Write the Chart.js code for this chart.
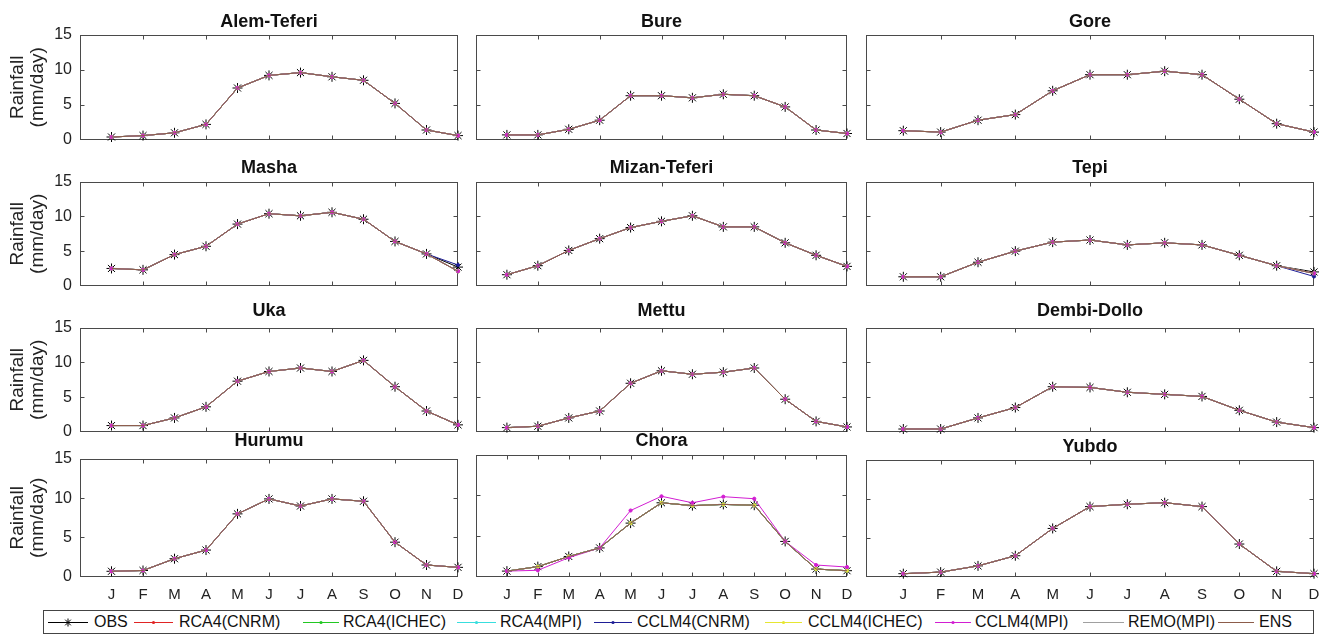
<!DOCTYPE html>
<html>
<head>
<meta charset="utf-8">
<script src="https://cdn.jsdelivr.net/npm/chart.js@4/dist/chart.umd.min.js"></script>
<style>
  body { margin: 0; background: #fff; width: 1331px; height: 634px; overflow: hidden; position: relative; font-family: "Liberation Sans", Arial, sans-serif; }
  canvas.panel { position: absolute; }
  #legend { position: absolute; left: 43px; top: 610px; width: 1269px; height: 22px; border: 1px solid #444; background: #fff; }
  #legend canvas { position: absolute; top: 5px; }
  #legend span { position: absolute; top: 2px; font-size: 16px; color: #111; white-space: nowrap; }
</style>
</head>
<body>
<div id="legend"></div>
<script>
const months = ['J', 'F', 'M', 'A', 'M', 'J', 'J', 'A', 'S', 'O', 'N', 'D']
const yTicks = [0, 5, 10, 15]

const seriesNames = ['OBS', 'RCA4(CNRM)', 'RCA4(ICHEC)', 'RCA4(MPI)', 'CCLM4(CNRM)', 'CCLM4(ICHEC)', 'CCLM4(MPI)', 'REMO(MPI)', 'ENS']

const stationNames = ['Alem-Teferi', 'Bure', 'Gore', 'Masha', 'Mizan-Teferi', 'Tepi',
    'Uka', 'Mettu', 'Dembi-Dollo', 'Hurumu', 'Chora', 'Yubdo']

const alemTeferi = [0.4, 0.6, 1.0, 2.2, 7.4, 9.2, 9.6, 9.0, 8.5, 5.2, 1.4, 0.6]
const bure = [0.7, 0.7, 1.5, 2.8, 6.3, 6.3, 6.0, 6.5, 6.3, 4.7, 1.4, 0.9]
const gore = [1.3, 1.1, 2.8, 3.6, 7.0, 9.3, 9.3, 9.8, 9.3, 5.8, 2.3, 1.1]
const mashaObs = [2.5, 2.3, 4.5, 5.7, 8.9, 10.4, 10.1, 10.6, 9.6, 6.4, 4.6, 2.7]
const masha = [2.5, 2.3, 4.5, 5.7, 8.9, 10.4, 10.1, 10.6, 9.6, 6.4, 4.6, 2.1]
const mashaCCLM4CNRM = [2.5, 2.3, 4.5, 5.7, 8.9, 10.4, 10.1, 10.6, 9.6, 6.4, 4.6, 3.0]
const mizanTeferi = [1.6, 2.9, 5.1, 6.8, 8.4, 9.3, 10.1, 8.5, 8.5, 6.2, 4.4, 2.8]
const tepiObs = [1.3, 1.3, 3.4, 5.0, 6.3, 6.6, 5.9, 6.2, 5.9, 4.4, 2.9, 2.0]
const tepi = [1.3, 1.3, 3.4, 5.0, 6.3, 6.6, 5.9, 6.2, 5.9, 4.4, 2.9, 1.8]
const tepiCCLM4CNRM = [1.3, 1.3, 3.4, 5.0, 6.3, 6.6, 5.9, 6.2, 5.9, 4.4, 2.9, 1.35]
const uka = [0.9, 0.9, 2.0, 3.6, 7.3, 8.7, 9.2, 8.7, 10.3, 6.5, 3.0, 1.0]
const mettu = [0.6, 0.8, 2.0, 3.0, 7.0, 8.8, 8.3, 8.6, 9.2, 4.7, 1.5, 0.7]
const dembiDollo = [0.4, 0.4, 2.0, 3.5, 6.5, 6.4, 5.7, 5.4, 5.1, 3.1, 1.4, 0.6]
const hurumu = [0.7, 0.8, 2.3, 3.4, 8.0, 9.9, 9.0, 9.9, 9.6, 4.4, 1.5, 1.2]
const chora = [0.7, 1.25, 2.5, 3.55, 6.6, 9.1, 8.75, 8.9, 8.8, 4.35, 0.95, 0.75]
const choraCCLM4MPI = [0.7, 0.8, 2.35, 3.55, 8.15, 9.9, 9.1, 9.85, 9.6, 4.35, 1.45, 1.2]
const yubdo = [0.4, 0.6, 1.4, 2.7, 6.2, 9.0, 9.3, 9.5, 9.0, 4.2, 0.7, 0.4]

const stationObs = [alemTeferi, bure, gore, mashaObs, mizanTeferi, tepiObs, uka, mettu, dembiDollo, hurumu, chora, yubdo]
const stationModels = [alemTeferi, bure, gore, masha, mizanTeferi, tepi, uka, mettu, dembiDollo, hurumu, chora, yubdo]
const modelOverrides = {
    'Masha': {'CCLM4(CNRM)': mashaCCLM4CNRM},
    'Tepi': {'CCLM4(CNRM)': tepiCCLM4CNRM},
    'Chora': {'CCLM4(MPI)': choraCCLM4MPI},
}

// styles
const seriesColors = ['#000000', '#e02424', '#22c822', '#38dede', '#1e1e96', '#e6e632', '#d21ed2', '#a0a0a0', '#8c5c4a']
const seriesMarkers = ['star', 'dot', 'dot', 'dot', 'dot', 'dot', 'dot', 'none', 'none']

// layout (pixels)
const colX = [[80, 458], [470, 847], [860, 1314]]
const panelTop = [35, 35, 35, 182, 182, 182, 328, 328, 328, 459, 455, 460]
const rowBottom = [140, 286, 432, 577]
const panelTitleY = [22, 22, 22, 168, 168, 168, 311, 311, 311, 441, 441, 447]
const legendPos = [[48, 88, 94], [134, 173, 179], [303, 339, 343], [457, 496, 500], [594, 632, 637],
    [765, 802, 808], [935, 971, 975], [1083, 1124, 1128], [1218, 1254, 1259]]

Chart.defaults.font.family = '"Liberation Sans", Arial, sans-serif'
Chart.defaults.color = '#222'

const boxPlugin = {
    id: 'matlabBox',
    beforeDatasetsDraw(chart, args, opts) {
        let {ctx, chartArea, scales} = chart
        let l = Math.round(chartArea.left) + 0.5
        let r = Math.round(chartArea.right) - 0.5
        let t = Math.round(chartArea.top) + 0.5
        let b = Math.round(chartArea.bottom) - 0.5
        ctx.save()
        ctx.strokeStyle = '#4a4a4a'
        ctx.lineWidth = 1
        ctx.strokeRect(l, t, r - l, b - t)
        ctx.beginPath()
        opts.xMarks.forEach(v => {
            let px = Math.round(scales.x.getPixelForValue(v)) + 0.5
            ctx.moveTo(px, t); ctx.lineTo(px, t + 4)
            ctx.moveTo(px, b); ctx.lineTo(px, b - 4)
        })
        yTicks.slice(1, -1).forEach(v => {
            let py = Math.round(scales.y.getPixelForValue(v)) + 0.5
            ctx.moveTo(l, py); ctx.lineTo(l + 4, py)
            ctx.moveTo(r, py); ctx.lineTo(r - 4, py)
        })
        ctx.stroke()
        ctx.restore()
    }
}

function makeDatasets(k) {
    let name = stationNames[k]
    return seriesNames.map((s, i) => {
        let values = i === 0 ? stationObs[k] : ((modelOverrides[name] || {})[s] || stationModels[k])
        let marker = seriesMarkers[i]
        return {
            label: s,
            data: values.map((v, m) => ({x: m + 1, y: v})),
            borderColor: seriesColors[i],
            backgroundColor: seriesColors[i],
            borderWidth: 1,
            pointStyle: marker === 'star' ? 'star' : 'circle',
            pointRadius: marker === 'star' ? 5 : (marker === 'dot' ? 1.6 : 0),
            pointBorderWidth: 1,
            tension: 0,
            clip: false,
            order: seriesNames.length - i,
        }
    })
}

function createPanel(k) {
    let col = k % 3
    let row = Math.floor(k / 3)
    let [x0, x1] = colX[col]
    let y0 = panelTop[k]
    let y1 = rowBottom[row]
    let leftW = col === 0 ? 80 : 0
    let bottomRow = row === 3
    let titleLine = 18 * 1.2
    let titleGap = y0 - panelTitleY[k] - titleLine / 2
    let padR = 8
    let padB = bottomRow ? 0 : 8
    let axisH = bottomRow ? 30 : 0

    let canvas = document.createElement('canvas')
    canvas.className = 'panel'
    let w = leftW + (x1 - x0) + padR
    let h = titleLine + titleGap + (y1 - y0) + axisH + padB
    canvas.width = Math.round(w)
    canvas.height = Math.round(h)
    canvas.style.left = (x0 - leftW) + 'px'
    canvas.style.top = (panelTitleY[k] - titleLine / 2) + 'px'
    document.body.appendChild(canvas)

    new Chart(canvas.getContext('2d'), {
        type: 'line',
        data: {datasets: makeDatasets(k)},
        options: {
            responsive: false,
            animation: false,
            events: [],
            layout: {padding: {left: 0, top: 0, right: padR + (canvas.width - w), bottom: padB + (canvas.height - h)}},
            scales: {
                x: {
                    type: 'linear',
                    min: 0,
                    max: 12,
                    display: bottomRow,
                    grid: {display: false, drawTicks: false},
                    border: {display: false},
                    ticks: {
                        stepSize: 1,
                        autoSkip: false,
                        maxRotation: 0,
                        padding: 9,
                        font: {size: 15},
                        color: '#222',
                        callback: v => v >= 1 ? months[v - 1] : '',
                    },
                    afterFit: scale => {
                        scale.height = axisH
                        scale.paddingLeft = 0
                        scale.paddingRight = 0
                    },
                },
                y: {
                    min: 0,
                    max: 15,
                    display: col === 0,
                    grid: {display: false, drawTicks: false},
                    border: {display: false},
                    afterBuildTicks: scale => {
                        scale.ticks = yTicks.map(v => ({value: v}))
                    },
                    ticks: {
                        padding: 8,
                        font: {size: 16},
                        color: '#222',
                    },
                    title: {
                        display: true,
                        text: ['Rainfall', '(mm/day)'],
                        font: {size: 19, lineHeight: 1.05},
                        color: '#222',
                        padding: {top: 8, bottom: 0},
                    },
                    afterFit: scale => {
                        scale.width = leftW
                        scale.paddingTop = 0
                        scale.paddingBottom = 0
                    },
                },
            },
            plugins: {
                legend: {display: false},
                tooltip: {enabled: false},
                title: {
                    display: true,
                    text: stationNames[k],
                    fullSize: false,
                    font: {size: 18, weight: 'bold'},
                    color: '#111',
                    padding: {top: 0, bottom: titleGap},
                },
                matlabBox: {xMarks: stationNames[k] === 'Chora' ? [1, 2, 3, 4, 5, 6, 7, 8, 9, 10, 11] : [2, 4, 6, 8, 10]},
            },
        },
        plugins: [boxPlugin],
    })
}

stationNames.forEach((s, k) => createPanel(k))

// legend
let legendDiv = document.getElementById('legend')
seriesNames.forEach((s, i) => {
    let [a, b, t] = legendPos[i]
    let cv = document.createElement('canvas')
    cv.width = b - a
    cv.height = 12
    cv.style.left = (a - 44) + 'px'
    let c = cv.getContext('2d')
    c.strokeStyle = seriesColors[i]
    c.fillStyle = seriesColors[i]
    c.lineWidth = 1
    c.beginPath()
    c.moveTo(0, 6.5)
    c.lineTo(cv.width, 6.5)
    c.stroke()
    let mx = cv.width / 2
    if (seriesMarkers[i] === 'star') {
        c.beginPath()
        for (let j = 0; j < 4; j++) {
            let ang = j * Math.PI / 4
            c.moveTo(mx - 4 * Math.cos(ang), 6.5 - 4 * Math.sin(ang))
            c.lineTo(mx + 4 * Math.cos(ang), 6.5 + 4 * Math.sin(ang))
        }
        c.stroke()
    } else if (seriesMarkers[i] === 'dot') {
        c.beginPath()
        c.arc(mx, 6.5, 1.6, 0, 2 * Math.PI)
        c.fill()
    }
    let span = document.createElement('span')
    span.textContent = s
    span.style.left = (t - 44) + 'px'
    legendDiv.appendChild(cv)
    legendDiv.appendChild(span)
})
</script>
</body>
</html>
